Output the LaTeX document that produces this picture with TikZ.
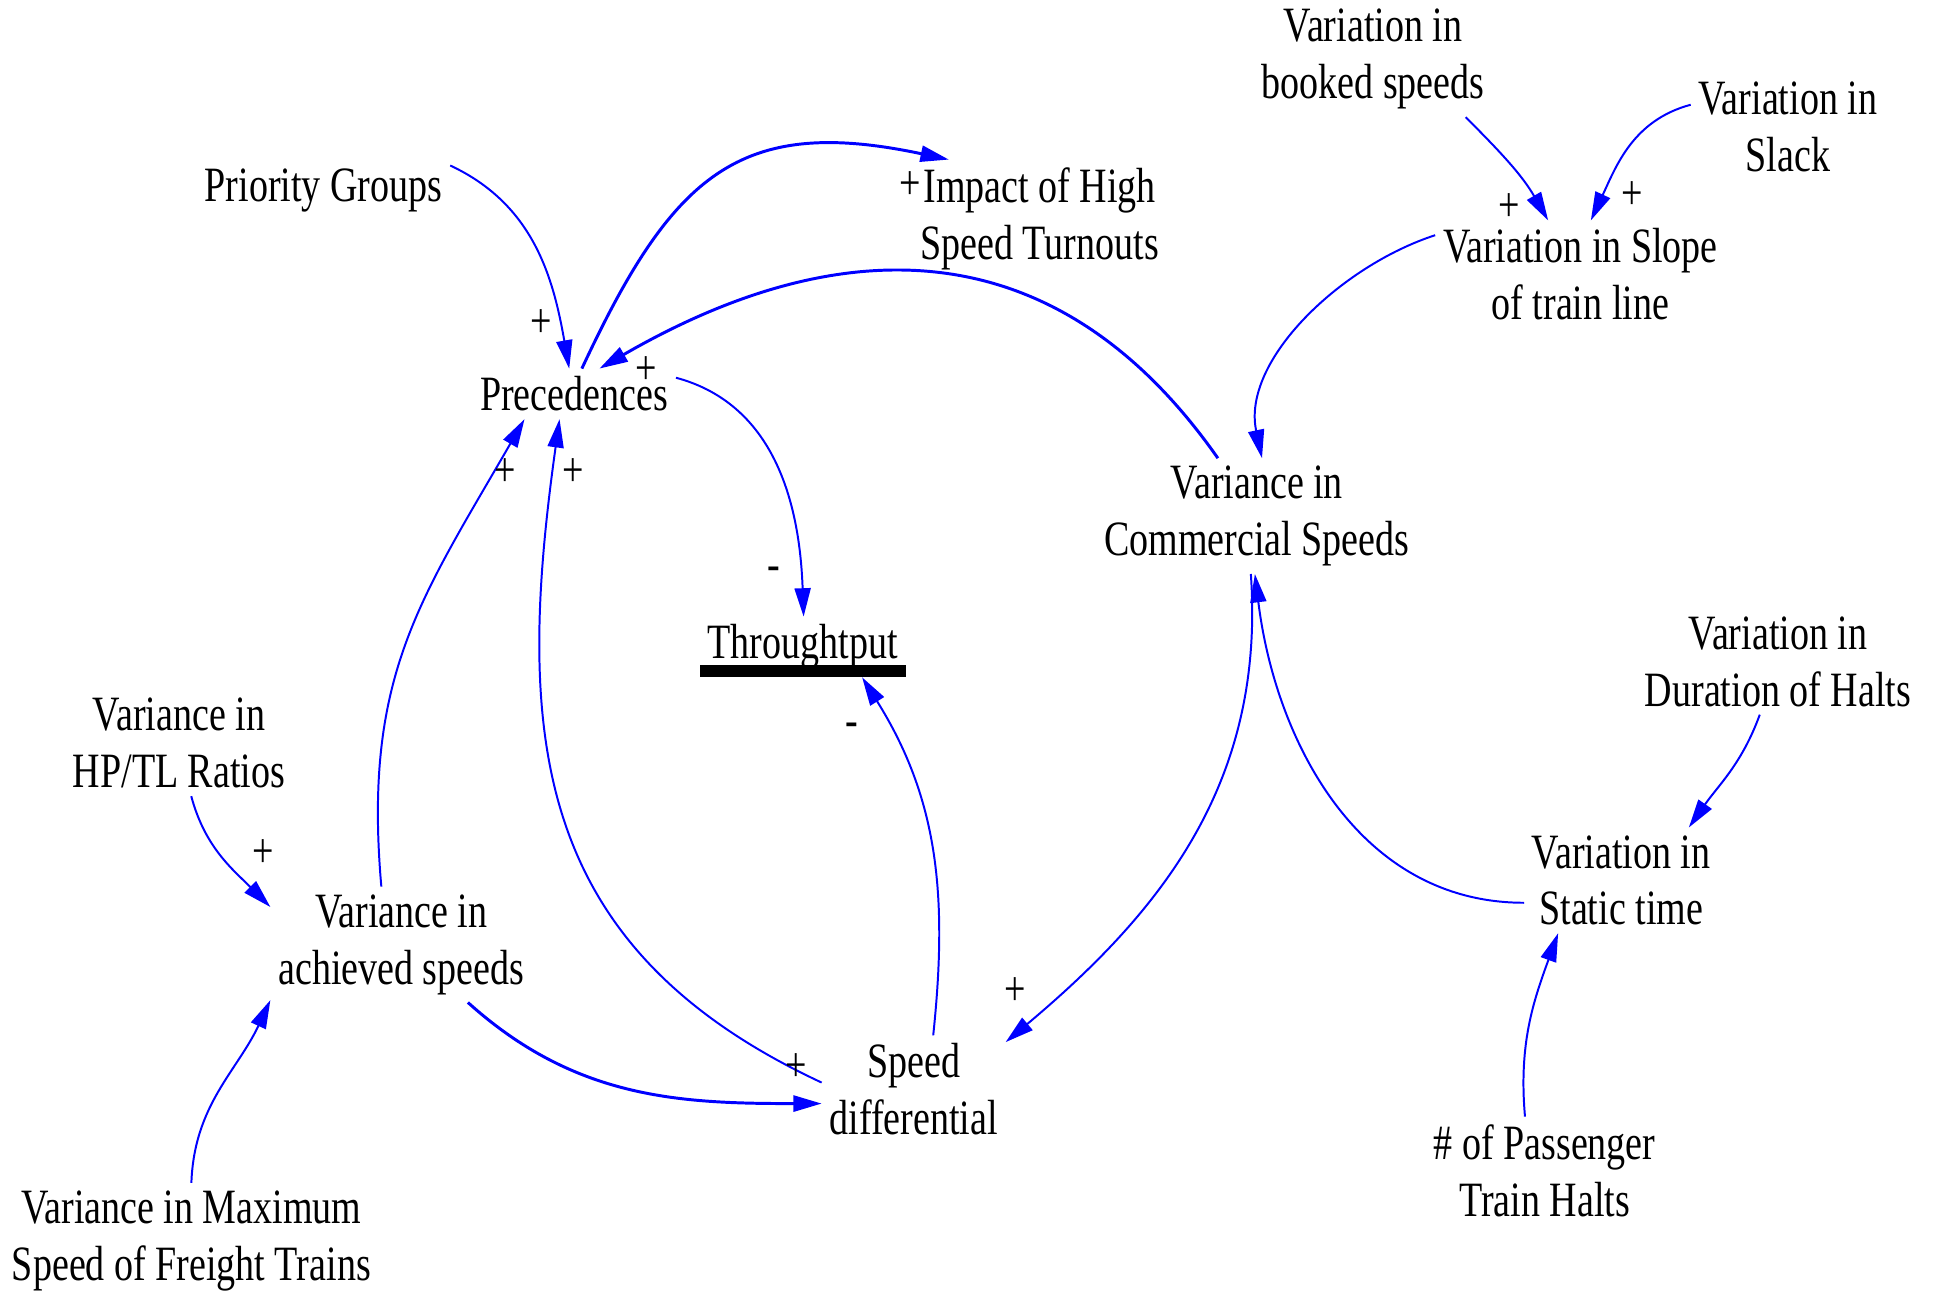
\documentclass[tikz,border=0pt]{standalone}
\usepackage{fontspec}
\setmainfont{Liberation Serif}[FakeStretch=0.77]
\usetikzlibrary{arrows.meta}

\begin{document}
\begin{tikzpicture}[x=0.5pt, y=0.5pt,
    var/.style={align=center, inner sep=3pt, font=\fontsize{20}{23}\selectfont},
    pol/.style={inner sep=0pt, font=\fontsize{20}{23}\selectfont},
    link/.style={blue, line width=0.8pt, -{Triangle[length=11.5pt, width=6.5pt]}},
    heavy/.style={line width=1.2pt}]
    \useasboundingbox (0,0) rectangle (1568,-1047);

    % variables
    \node[var] (pg) at (262,-154) {Priority Groups};
    \node[var] (imp) at (842,-177) {Impact of High\\Speed Turnouts};
    \node[var] (prec) at (465,-319) {Precedences};
    \node[var] (thr) at (650,-524) {Throughtput};
    \node[var] (vcs) at (1018,-418) {Variance in\\Commercial Speeds};
    \node[var] (vbs) at (1112,-48) {Variation in\\booked speeds};
    \node[var] (vsl) at (1448,-103) {Variation in\\Slack};
    \node[var] (vst) at (1280,-222) {Variation in Slope\\of train line};
    \node[var] (vdh) at (1440,-536) {Variation in\\Duration of Halts};
    \node[var] (vstat) at (1313,-713) {Variation in\\Static time};
    \node[var] (npt) at (1251,-948) {\# of Passenger\\Train Halts};
    \node[var] (sd) at (740,-882) {Speed\\differential};
    \node[var] (vas) at (325,-765) {Variance in\\achieved speeds};
    \node[var] (hptl) at (145,-602) {Variance in\\HP/TL Ratios};
    \node[var] (vmax) at (155,-1005) {Variance in Maximum\\Speed of Freight Trains};

    \fill (thr.south west) rectangle ([yshift=5pt]thr.south east); % underline

    % links
    \draw[link] (pg.11) to[out=-25, in=100] (prec.101);
    \draw[link, heavy] (prec.73) to[out=65, in=168, looseness=1.3] (imp.147);
    \draw[link, heavy] (vcs.124) to[out=125, in=30, looseness=1.15] (prec.45);
    \draw[link] (prec.9) to[out=-15, in=92] (thr.88);
    \draw[link] (vas.109) to[out=95, in=240, looseness=1.1] (prec.207);
    \draw[link] (sd.176) to[out=155, in=262, looseness=1.15] (prec.240);
    \draw[link] (sd.70) to[out=84, in=-58] (thr.-27);
    \draw[link] (vcs.264) to[out=-86, in=40] (sd.27);
    \draw[link] (vstat.193) to[out=180, in=-83] (vcs.268);
    \draw[link] (vdh.251) to[out=-110, in=55] (vstat.38);
    \draw[link] (npt.110) to[out=95, in=250] (vstat.220);
    \draw[link] (vst.165) to[out=198, in=102, looseness=0.9] (vcs.85);
    \draw[link] (vbs.-32) to[out=-45, in=120] (vst.121);
    \draw[link] (vsl.167) to[out=195, in=65] (vst.79);
    \draw[link] (hptl.-77) to[out=-75, in=135] (vas.164);
    \draw[link] (vmax.90) to[out=88, in=245] (vas.203);
    \draw[link, heavy] (vas.-41) to[out=-42, in=180] (sd.189);

    % polarities
    \node[pol] (p1) at (438,-262) {+};
    \node[pol] (p2) at (737,-150) {+};
    \node[pol] (p3) at (523,-300) {+};
    \node[pol] (p4) at (627,-465) {-};
    \node[pol] (p5) at (409,-383) {+};
    \node[pol] (p6) at (464,-383) {+};
    \node[pol] (p7) at (690,-591) {-};
    \node[pol] (p8) at (822,-803) {+};
    \node[pol] (p9) at (1222,-168) {+};
    \node[pol] (p10) at (1322,-158) {+};
    \node[pol] (p11) at (213,-691) {+};
    \node[pol] (p12) at (645,-865) {+};
\end{tikzpicture}
\end{document}
